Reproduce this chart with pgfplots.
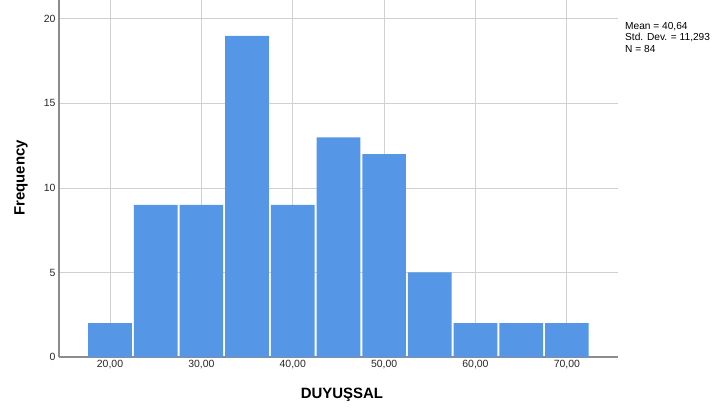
\documentclass[border=0pt]{standalone}
\usepackage{pgfplots}
\pgfplotsset{compat=1.18}
\usepackage{fontspec}
\setmainfont{Liberation Sans}
\definecolor{barblue}{RGB}{85,150,230}
\definecolor{gridgray}{RGB}{208,208,208}
\definecolor{spinegray}{RGB}{140,140,140}
\begin{document}
\begin{tikzpicture}[x=1bp,y=1bp]
\useasboundingbox (0,0) rectangle (713,409);
\begin{axis}[
  at={(59bp,52bp)}, anchor=south west,
  scale only axis, width=559bp, height=357bp,
  xmin=14.42, xmax=75.6, ymin=0, ymax=21.12,
  axis x line*=bottom, axis y line*=left,
  axis line style={spinegray, line width=1.2bp, -},
  xtick={20,30,40,50,60,70},
  xticklabels={{20,00},{30,00},{40,00},{50,00},{60,00},{70,00}},
  ytick={0,5,10,15,20},
  major tick length=0pt,
  grid=major,
  grid style={gridgray, line width=0.9bp},
  tick label style={font=\fontsize{10.5}{12}\selectfont, text=black!85},
  /pgf/number format/assume math mode=true,
  clip=false,
]
\addplot[ybar, bar width=4.78, bar shift=0pt, fill=barblue, draw=none] coordinates {
(20,2) (25,9) (30,9) (35,19) (40,9) (45,13) (50,12) (55,5) (60,2) (65,2) (70,2)
};
\end{axis}
\node[rotate=90, font=\fontsize{15}{18}\selectfont\bfseries] at (21,231) {Frequency};
\node[font=\fontsize{15}{18}\selectfont\bfseries] at (342,14) {DUYUŞSAL};
\node[anchor=north west, align=left, inner sep=0pt, font=\fontsize{10.2}{11.5}\selectfont] at (625,387) {Mean = 40,64\\Std. Dev. = 11,293\\N = 84};
\end{tikzpicture}
\end{document}
